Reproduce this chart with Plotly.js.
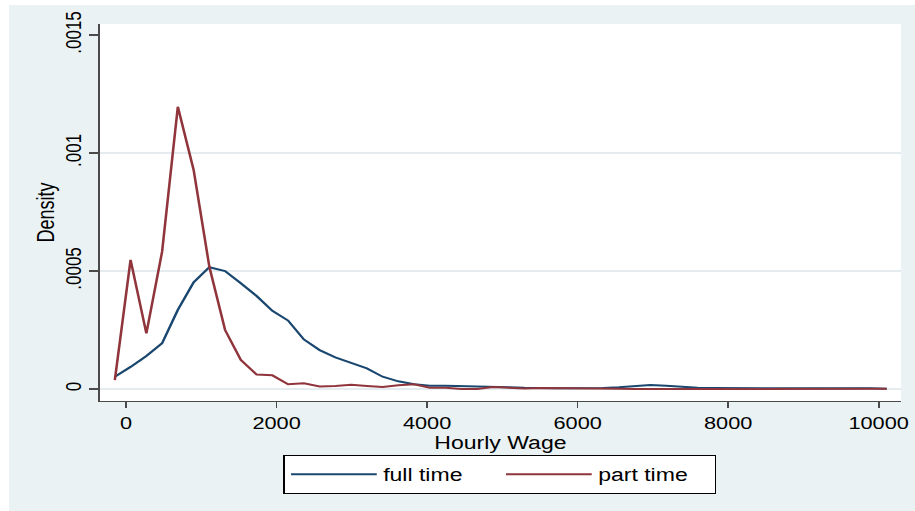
<!DOCTYPE html>
<html>
<head>
<meta charset="utf-8">
<script src="https://cdn.plot.ly/plotly-3.0.1.min.js"></script>
<style>
  html, body { margin: 0; padding: 0; background: #ffffff; width: 915px; height: 511px; overflow: hidden; }
  #chart { position: absolute; left: 9px; top: 5px; width: 708px; height: 506px;
           transform: scaleX(1.2797); transform-origin: 0 0; }
</style>
</head>
<body>
<div id="chart"></div>
<script>
// Evaluation points (hourly wage)
const wage = [-149, 60, 270, 479, 688, 898, 1107, 1316, 1525, 1735, 1944, 2153, 2363, 2572, 2781, 2991, 3200, 3409, 3618, 3828,
              4037, 4246, 4456, 4665, 4874, 5084, 5293, 5502, 5711, 5921, 6130, 6339, 6549, 6758, 6967, 7177, 7386, 7595, 7804, 8014,
              8223, 8432, 8642, 8851, 9060, 9270, 9479, 9688, 9897, 10107];

// Density, full time
const fullTime = [0.0000521, 0.0000937, 0.000140, 0.000194, 0.000335, 0.000452, 0.000516, 0.000500, 0.000448, 0.000394,
                  0.000331, 0.000290, 0.000210, 0.000165, 0.000134, 0.000111, 0.0000877, 0.0000521, 0.0000326, 0.0000199,
                  0.000014, 0.000014, 0.0000127, 0.000012, 0.0000105, 0.0000072, 0.000005, 0.000003, 0.000003, 0.000003,
                  0.000003, 0.000004, 0.000007, 0.000013, 0.000017, 0.000014, 0.000008, 0.000005, 0.000004, 0.000004,
                  0.000004, 0.000003, 0.000004, 0.000006, 0.000006, 0.000005, 0.000005, 0.000005, 0.000003, 0.000001];

// Density, part time
const partTime = [0.000038, 0.000547, 0.000236, 0.000582, 0.001196, 0.000928, 0.000518, 0.000250, 0.000123, 0.000061,
                  0.000058, 0.000020, 0.000024, 0.000011, 0.000013, 0.000018, 0.000013, 0.0000085, 0.000016, 0.000020,
                  0.0000056, 0.0000056, 0.0, 0.0, 0.0000085, 0.0000056, 0.000002, 0.000004, 0.000004, 0.000002,
                  0.000002, 0.000002, 0.000001, 0.0, 0.0, 0.000001, 0.000002, 0.000002, 0.000001, 0.000001,
                  0.000001, 0.000001, 0.000002, 0.000003, 0.000002, 0.000001, 0.000001, 0.000001, 0.000001, 0.000001];

const seriesNames = ["full time", "part time"];

const xTickVals = [0, 2000, 4000, 6000, 8000, 10000];
const xTickLabels = ["0", "2000", "4000", "6000", "8000", "10000"];
const yTickVals = [0, 0.0005, 0.001, 0.0015];
const yTickLabels = ["0", ".0005", ".001", ".0015"];
const yGridVals = [0, 0.0005, 0.001];

const navy = "#1a476f";
const maroon = "#90353b";
const axisCol = "#4a4a4a";

const traces = [
  { x: wage, y: fullTime, type: "scatter", mode: "lines", name: seriesNames[0],
    line: { color: navy, width: 2 } },
  { x: wage, y: partTime, type: "scatter", mode: "lines", name: seriesNames[1],
    line: { color: maroon, width: 2 } }
];

const shapes = yGridVals.map(v => ({
  type: "line", xref: "paper", x0: 0, x1: 1, yref: "y", y0: v, y1: v,
  line: { color: "#e4ecef", width: 2.2 }, layer: "below"
}));

const layout = {
  width: 708, height: 506, autosize: false,
  margin: { l: 71, r: 11, t: 19, b: 110, pad: 0 },
  paper_bgcolor: "#eaf2f3",
  plot_bgcolor: "#ffffff",
  font: { family: "'Liberation Sans', Arial, sans-serif", color: "#000000", size: 17 },
  showlegend: true,
  xaxis: {
    range: [-348, 10296], tickmode: "array", tickvals: xTickVals, ticktext: xTickLabels,
    ticks: "outside", ticklen: 6, tickwidth: 1.3, tickcolor: axisCol,
    showline: true, linecolor: axisCol, linewidth: 1.3,
    showgrid: false, zeroline: false,
    tickfont: { size: 17 },
    title: { text: "Hourly Wage", font: { size: 18 }, standoff: 0 }
  },
  yaxis: {
    range: [-0.0000508, 0.0015466], tickmode: "array", tickvals: yTickVals, ticktext: yTickLabels,
    tickangle: -90,
    ticks: "outside", ticklen: 7, tickwidth: 1.3, tickcolor: axisCol,
    showline: true, linecolor: axisCol, linewidth: 1.3,
    showgrid: false, zeroline: false,
    tickfont: { size: 17 },
    title: { text: "Density", font: { size: 18 }, standoff: 0 }
  },
  shapes: shapes,
  legend: {
    orientation: "h", x: 0.499, xanchor: "center", y: -0.1435, yanchor: "top",
    bgcolor: "#ffffff", bordercolor: "#000000", borderwidth: 1,
    font: { size: 18 }, itemwidth: 67, entrywidth: 86, entrywidthmode: "pixels"
  }
};

Plotly.newPlot("chart", traces, layout, { displayModeBar: false, staticPlot: true });
</script>
</body>
</html>
